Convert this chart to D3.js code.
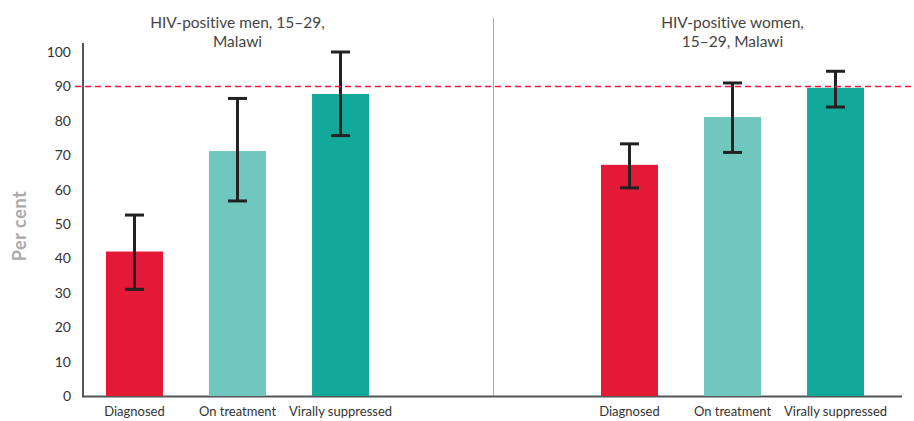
<!DOCTYPE html>
<html><head><meta charset="utf-8">
<script src="https://cdn.jsdelivr.net/npm/d3@7"></script>
<style>body{margin:0;background:#fff;}svg{display:block;font-family:Lato,"Noto Sans",sans-serif;font-variant-ligatures:none;}</style>
</head><body><svg id="c" width="914" height="421"></svg>
<script>
const categories = ["Diagnosed", "On treatment", "Virally suppressed"];
const panelTitles = [["HIV-positive men, 15–29,", "Malawi"], ["HIV-positive women,", "15–29, Malawi"]];
const menValues = [42, 71.2, 87.8];
const menLow = [31, 56.7, 75.7];
const menHigh = [52.6, 86.5, 100];
const womenValues = [67.2, 81.1, 89.6];
const womenLow = [60.5, 70.8, 84];
const womenHigh = [73.3, 91, 94.4];
const yTicks = [0, 10, 20, 30, 40, 50, 60, 70, 80, 90, 100];
const target = 90;
const colors = ["#E41937", "#6FC7BD", "#12A89A"];

const svg = d3.select("#c");
const y = d3.scaleLinear().domain([0, 100]).range([396, 52]);

// y axis
const yAxis = d3.axisLeft(y).tickValues(yTicks).tickSize(0).tickPadding(12);
const gy = svg.append("g").attr("transform", "translate(83,0)").call(yAxis);
gy.select(".domain").remove();
gy.selectAll("text").attr("font-size", 14).attr("fill", "#333").attr("font-family", "Lato,'Noto Sans',sans-serif");
svg.append("line").attr("x1", 83).attr("x2", 83).attr("y1", 43).attr("y2", 397).attr("stroke", "#555").attr("stroke-width", 2);

// y label
svg.append("text").attr("transform", "translate(26,226) rotate(-90)")
  .attr("text-anchor", "middle").attr("font-size", 18).attr("font-weight", "bold")
  .attr("letter-spacing", 0.6).attr("fill", "#aaa").text("Per cent");

// divider
svg.append("line").attr("x1", 493.5).attr("x2", 493.5).attr("y1", 18).attr("y2", 396).attr("stroke", "#aaa").attr("stroke-width", 1);

// baseline
svg.append("line").attr("x1", 82).attr("x2", 902).attr("y1", 396.5).attr("y2", 396.5).attr("stroke", "#555").attr("stroke-width", 2);

const panels = [
  {range: [106, 369], vals: menValues, lo: menLow, hi: menHigh, title: panelTitles[0]},
  {range: [601, 864], vals: womenValues, lo: womenLow, hi: womenHigh, title: panelTitles[1]}
];

panels.forEach(p => {
  const x = d3.scaleBand().domain(categories).range(p.range).paddingInner(0.447).paddingOuter(0);
  const g = svg.append("g");
  g.selectAll("rect").data(categories).join("rect")
    .attr("x", d => x(d)).attr("width", x.bandwidth())
    .attr("y", (d, i) => y(p.vals[i])).attr("height", (d, i) => y(0) - y(p.vals[i]))
    .attr("fill", (d, i) => colors[i]);
  // error bars
  const eb = g.selectAll("g.eb").data(categories).join("g").attr("class", "eb");
  const cx = d => x(d) + x.bandwidth() / 2;
  eb.append("line").attr("x1", cx).attr("x2", cx)
    .attr("y1", (d, i) => y(p.lo[i])).attr("y2", (d, i) => y(p.hi[i]))
    .attr("stroke", "#222").attr("stroke-width", 3);
  ["lo", "hi"].forEach(k => {
    eb.append("line").attr("x1", d => cx(d) - 9.5).attr("x2", d => cx(d) + 9.5)
      .attr("y1", (d, i) => y(p[k][i])).attr("y2", (d, i) => y(p[k][i]))
      .attr("stroke", "#222").attr("stroke-width", 3);
  });
  // category labels
  const xAxis = d3.axisBottom(x).tickSize(0).tickPadding(11);
  const gx = svg.append("g").attr("transform", "translate(0,396)").call(xAxis);
  gx.select(".domain").remove();
  gx.selectAll("text").attr("font-size", 13).attr("fill", "#333").attr("font-family", "Lato,'Noto Sans',sans-serif");
  // title
  const tc = x(categories[1]) + x.bandwidth() / 2;
  const t = svg.append("text").attr("text-anchor", "middle").attr("font-size", 15.5).attr("fill", "#444");
  p.title.forEach((line, i) => t.append("tspan").attr("x", tc).attr("y", 28 + i * 19).text(line));
});

// target line
svg.append("line").attr("x1", 75).attr("x2", 914).attr("y1", y(target)).attr("y2", y(target))
  .attr("stroke", "#E8193C").attr("stroke-width", 1.5).attr("stroke-dasharray", "6,4");
</script></body></html>
